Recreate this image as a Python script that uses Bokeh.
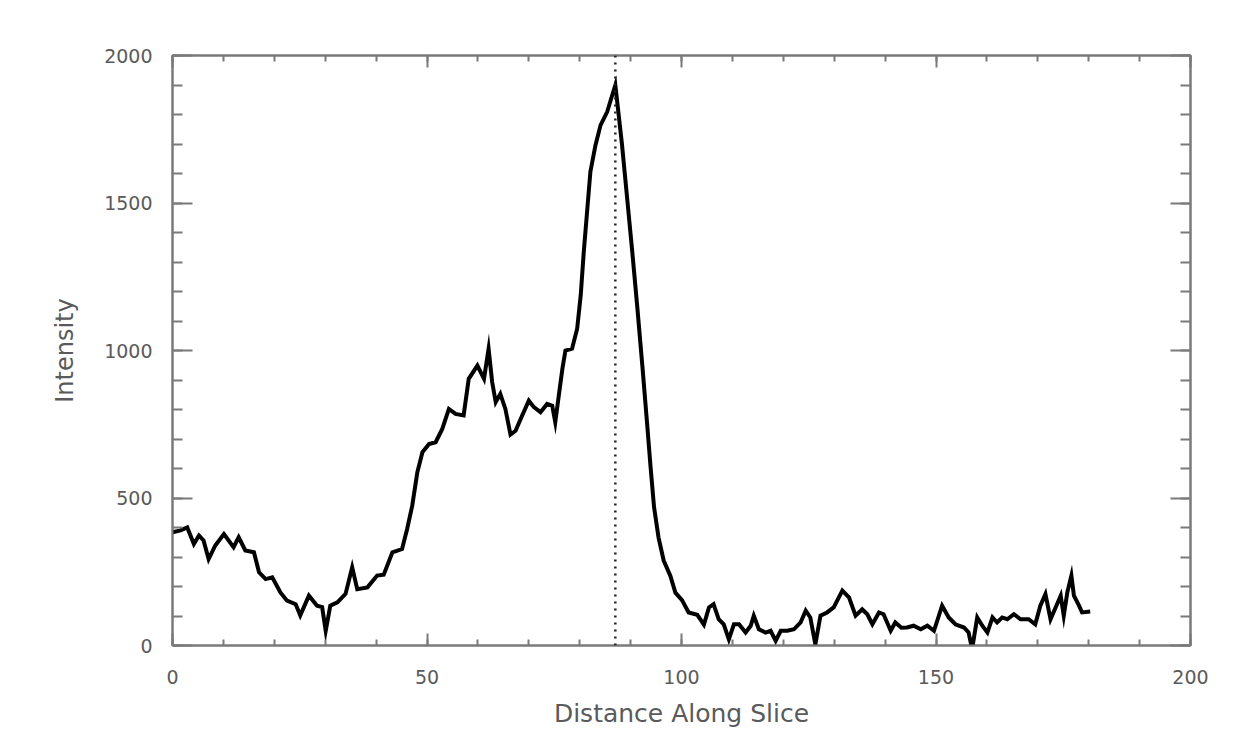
from bokeh.plotting import figure
from bokeh.models import Range1d, LinearAxis, SingleIntervalTicker, Span, ColumnDataSource, CustomJSTickFormatter
from bokeh.embed import file_html
from bokeh.resources import INLINE

# Distance along the slice (pixels) and measured intensity
distance = [0.0, 1.6, 2.9, 4.2, 5.2, 6.1, 7.1, 8.4, 10.1, 12.0, 13.0, 14.3, 16.0, 17.0,
            18.3, 19.6, 21.2, 22.5, 24.2, 25.1, 26.8, 28.4, 29.4, 30.1, 31.0, 32.4, 34.0,
            35.3, 36.3, 38.3, 40.2, 41.5, 43.2, 45.1, 46.1, 47.1, 48.1, 49.1, 50.4, 51.7,
            53.0, 54.3, 55.6, 57.2, 58.2, 59.9, 61.2, 62.1, 62.8, 63.5, 64.4, 65.4, 66.4,
            67.4, 68.4, 70.0, 71.0, 72.3, 73.6, 74.6, 75.2, 75.9, 76.6, 77.2, 78.5, 79.5,
            80.2, 80.8, 81.5, 82.1, 83.1, 84.1, 85.4, 87.0, 88.3, 89.3, 90.3, 91.3, 92.3,
            93.3, 93.9, 94.6, 95.5, 96.5, 97.8, 98.8, 100.1, 101.4, 103.1, 104.4, 105.4,
            106.3, 107.3, 108.3, 109.3, 110.3, 111.3, 112.6, 113.6, 114.2, 115.2, 116.5,
            117.5, 118.5, 119.5, 120.8, 122.1, 123.4, 124.4, 125.3, 126.3, 127.3, 128.6,
            129.9, 131.6, 132.9, 134.2, 135.5, 136.5, 137.5, 138.8, 139.7, 141.1, 142.0,
            143.2, 144.3, 145.6, 147.0, 148.3, 149.6, 151.2, 152.5, 153.8, 155.5, 156.4,
            157.1, 158.1, 159.1, 160.1, 161.1, 162.0, 163.0, 164.0, 165.3, 166.6, 168.2,
            169.5, 170.5, 171.5, 172.5, 173.5, 174.5, 175.1, 175.8, 176.6, 177.1, 178.1,
            178.7, 180.3]
intensity = [384, 390, 400, 344, 373, 356, 293, 339, 378, 333, 367, 322, 316, 248,
             225, 231, 180, 152, 140, 102, 169, 135, 130, 50, 135, 146, 175,
             265, 191, 197, 237, 240, 316, 327, 395, 474, 587, 655, 683, 689,
             734, 802, 785, 780, 904, 949, 904, 1006, 893, 825, 853, 802, 715,
             728, 768, 830, 808, 791, 819, 813, 757, 848, 938, 1000, 1006, 1074,
             1187, 1334, 1481, 1606, 1696, 1764, 1809, 1900, 1700, 1520, 1340, 1150, 950,
             740, 610, 470, 365, 288, 237, 179, 154, 112, 104, 71, 129,
             140, 89, 72, 21, 72, 72, 44, 67, 101, 55, 44,
             50, 16, 50, 50, 55, 78, 118, 95, 4, 101, 112,
             129, 186, 163, 101, 123, 106, 72, 112, 106, 50, 78,
             60, 61, 67, 55, 67, 50, 135, 95, 72, 61, 44,
             -12, 95, 67, 44, 95, 78, 95, 89, 106, 89, 89,
             72, 135, 174, 89, 129, 169, 101, 180, 237, 169, 135,
             112, 115]
marker_position = 87.0

x_title = "Distance Along Slice"
y_title = "Intensity"

src = ColumnDataSource(data=dict(x=distance, y=intensity))

AX = "#7a7a7a"
TXT = "#5a5a5a"
FONT = "DejaVu Sans"

p = figure(frame_width=1018, frame_height=590,
           x_range=Range1d(0, 200), y_range=Range1d(0, 2000),
           output_backend="svg", toolbar_location=None,
           min_border_left=172, min_border_right=47, min_border_top=55, min_border_bottom=90,
           background_fill_color="white", border_fill_color="white")
p.xgrid.visible = False
p.ygrid.visible = False
p.outline_line_color = AX
p.outline_line_width = 2

xt = SingleIntervalTicker(interval=50, num_minor_ticks=5)
yt = SingleIntervalTicker(interval=500, num_minor_ticks=5)

def style_x(ax):
    ax.ticker = xt
    ax.axis_line_color = AX
    ax.axis_line_width = 2
    ax.major_tick_line_color = AX
    ax.minor_tick_line_color = AX
    ax.major_tick_line_width = 2
    ax.minor_tick_line_width = 2
    ax.major_tick_in = 12
    ax.major_tick_out = 0
    ax.minor_tick_in = 6
    ax.minor_tick_out = 0

def style_y(ax):
    ax.ticker = yt
    ax.axis_line_color = AX
    ax.axis_line_width = 2
    ax.major_tick_line_color = AX
    ax.minor_tick_line_color = AX
    ax.major_tick_line_width = 2
    ax.minor_tick_line_width = 2
    ax.major_tick_in = 20
    ax.major_tick_out = 0
    ax.minor_tick_in = 10
    ax.minor_tick_out = 0

xa = p.xaxis[0]
style_x(xa)
xa.axis_label = x_title
xa.axis_label_text_font = FONT
xa.axis_label_text_font_style = "normal"
xa.axis_label_text_font_size = "25px"
xa.axis_label_text_color = TXT
xa.axis_label_standoff = 12
xa.major_label_text_font = FONT
xa.major_label_text_font_size = "19px"
xa.major_label_text_color = TXT
xa.major_label_standoff = 24

ya = p.yaxis[0]
style_y(ya)
ya.axis_label = y_title
ya.axis_label_text_font = FONT
ya.axis_label_text_font_style = "normal"
ya.axis_label_text_font_size = "24px"
ya.axis_label_text_color = TXT
ya.axis_label_standoff = 22
ya.major_label_text_font = FONT
ya.major_label_text_font_size = "19px"
ya.major_label_text_color = TXT
ya.major_label_standoff = 20
ya.major_label_orientation = "horizontal"

blank = CustomJSTickFormatter(code="return ''")
top = LinearAxis(formatter=blank, major_label_standoff=0)
style_x(top)
p.add_layout(top, "above")
right = LinearAxis(formatter=blank, major_label_standoff=0)
style_y(right)
p.add_layout(right, "right")

p.add_layout(Span(location=marker_position, dimension="height", line_color="#222222",
                  line_width=2.5, line_dash="2 5"))

p.line("x", "y", source=src, line_color="black", line_width=4, line_join="miter")

open("out.html", "w").write(file_html(p, INLINE))
